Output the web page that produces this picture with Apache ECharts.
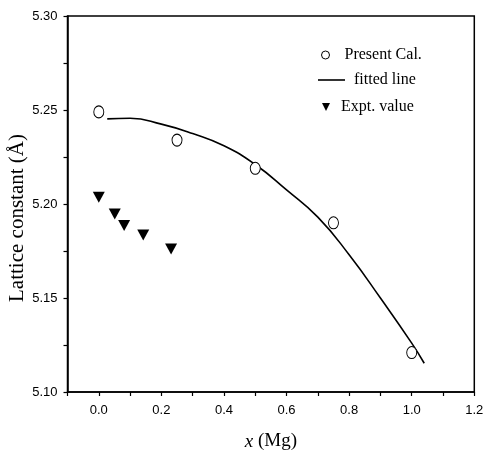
<!DOCTYPE html>
<html><head><meta charset="utf-8">
<script src="https://cdn.jsdelivr.net/npm/echarts@6/dist/echarts.min.js"></script>
<style>html,body{margin:0;padding:0;background:#fff}#c{width:485px;height:450px}</style>
</head><body><div id="c"></div>
<script>
// Data
const calX = [0, 0.25, 0.5, 0.75, 1.0];
const calY = [5.249, 5.234, 5.219, 5.190, 5.121];
const exptX = [0, 0.051, 0.081, 0.142, 0.231];
const exptY = [5.2036, 5.1947, 5.1885, 5.1835, 5.176];
const fitX = [0.027, 0.1, 0.2, 0.3, 0.4, 0.5, 0.6, 0.7, 0.8, 0.9, 1.0, 1.04];
const fitY = [5.2453, 5.2456, 5.2425, 5.2375, 5.231, 5.221, 5.2075, 5.193, 5.173, 5.150, 5.126, 5.1153];
const legendNames = ['Present Cal.', 'fitted line', 'Expt. value'];

const zip = (xs, ys) => xs.map((x, i) => [x, ys[i]]);
const tri = 'path://M0,0L10,0L5,10Z';
const tickFont = "'Liberation Sans Narrow','Liberation Sans',Arial,sans-serif";
const serif = "'Liberation Serif','Times New Roman',serif";

const chart = echarts.init(document.getElementById('c'));
const legendBase = {
  orient: 'vertical', selectedMode: false, padding: 0,
  textStyle: { fontFamily: serif, fontSize: 16, color: '#000' }
};
chart.setOption({
  animation: false,
  grid: { left: 67.5, right: 10.7, top: 16, bottom: 58, outerBoundsMode: 'none', containLabel: false,
    show: true, borderColor: '#000', borderWidth: 1.5, backgroundColor: 'transparent' },
  legend: [
    Object.assign({}, legendBase, { data: [{ name: legendNames[0], icon: 'circle' }], left: 321, top: 47, itemWidth: 8, itemHeight: 8,
      itemStyle: { color: '#fff', borderColor: '#000', borderWidth: 1 },
      textStyle: Object.assign({}, legendBase.textStyle, { padding: [0, 0, 0, 10] }) }),
    Object.assign({}, legendBase, { data: [{ name: legendNames[1], icon: 'rect' }], left: 318, top: 72, itemWidth: 27, itemHeight: 1.6,
      textStyle: Object.assign({}, legendBase.textStyle, { padding: [0, 0, 0, 4] }) }),
    Object.assign({}, legendBase, { data: [{ name: legendNames[2], icon: tri }], left: 322, top: 99, itemWidth: 8, itemHeight: 8,
      textStyle: Object.assign({}, legendBase.textStyle, { padding: [0, 0, 0, 6] }) })
  ],
  xAxis: {
    type: 'value', min: -0.1, max: 1.2, interval: 0.1,
    name: '{i|x} (Mg)', nameLocation: 'middle', nameGap: 40,
    nameTextStyle: { fontFamily: serif, fontSize: 19, color: '#000', rich: { i: { fontFamily: serif, fontStyle: 'italic', fontSize: 19, color: '#000' } } },
    axisLine: { onZero: false, lineStyle: { color: '#000', width: 1.5 } },
    axisTick: { inside: false, length: 4, lineStyle: { color: '#000', width: 1.2 } },
    axisLabel: { margin: 12, fontFamily: tickFont, fontSize: 13, color: '#000',
      formatter: v => (Math.round(v * 10) % 2 === 0 ? v.toFixed(1) : '') },
    splitLine: { show: false }
  },
  yAxis: {
    type: 'value', min: 5.1, max: 5.3, interval: 0.025,
    name: 'Lattice constant (Å)', nameLocation: 'middle', nameGap: 40, nameRotate: 90, nameMoveOverlap: false,
    nameTextStyle: { fontFamily: serif, fontSize: 21, color: '#000', padding: [0, 28, 0, 0] },
    axisLine: { onZero: false, lineStyle: { color: '#000', width: 1.5 } },
    axisTick: { inside: false, length: 4, lineStyle: { color: '#000', width: 1.2 } },
    axisLabel: { margin: 10, fontFamily: tickFont, fontSize: 13, color: '#000',
      formatter: v => (Math.round(v * 1000) % 50 === 0 ? v.toFixed(2) : '') },
    splitLine: { show: false }
  },
  series: [
    { name: legendNames[0], type: 'scatter', data: zip(calX, calY), symbol: 'circle', symbolSize: [10, 12],
      itemStyle: { color: '#fff', borderColor: '#000', borderWidth: 1, opacity: 1 }, z: 3 },
    { name: legendNames[1], type: 'line', data: zip(fitX, fitY), smooth: true, showSymbol: false, symbol: 'none',
      lineStyle: { color: '#000', width: 1.6 }, itemStyle: { color: '#000' }, z: 2 },
    { name: legendNames[2], type: 'scatter', data: zip(exptX, exptY), symbol: tri, symbolSize: [12, 11],
      itemStyle: { color: '#000', opacity: 1 }, z: 3 }
  ]
});
</script></body></html>
